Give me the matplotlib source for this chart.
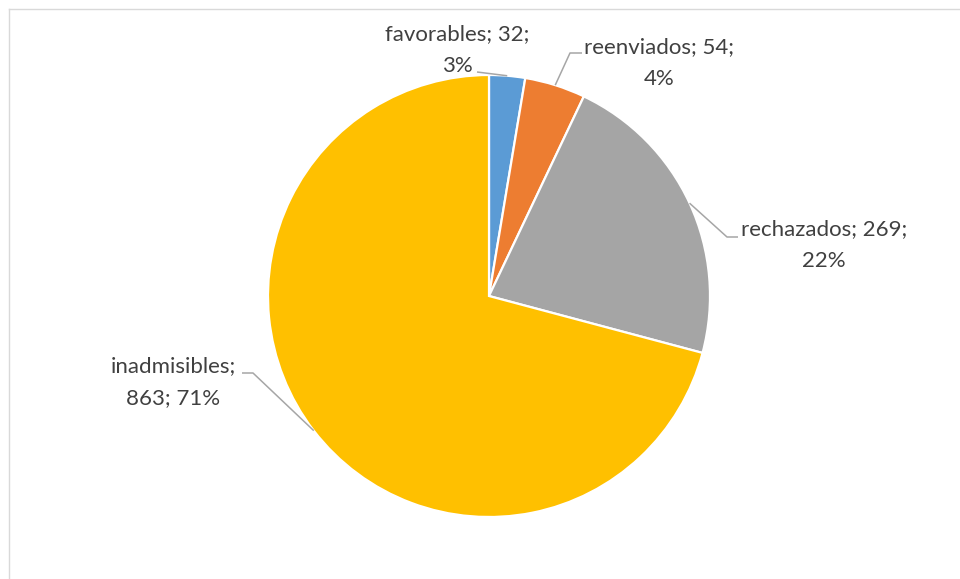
import numpy as np
import matplotlib.pyplot as plt
from matplotlib.lines import Line2D

categories = ['favorables', 'reenviados', 'rechazados', 'inadmisibles']
counts = [32, 54, 269, 863]
colors = ['#5B9BD5', '#ED7D31', '#A5A5A5', '#FFC000']

W, H = 960, 579
center = (489, H - 296)
radius = 221

# label layout in pixel coords (x, y from top): text centre, stub end, elbow
label_text = {
    'favorables': ('favorables; 32;\n3%', (457, 50)),
    'reenviados': ('reenviados; 54;\n4%', (659, 63)),
    'rechazados': ('rechazados; 269;\n22%', (824, 245)),
    'inadmisibles': ('inadmisibles;\n863; 71%', (173, 382)),
}
stubs = {
    'favorables': ((477, 72), None),
    'reenviados': ((582, 53), (570, 53)),
    'rechazados': ((738, 237), (727, 237)),
    'inadmisibles': ((242, 373), (253, 373)),
}

fig = plt.figure(figsize=(W / 100, H / 100), dpi=100)
ax = fig.add_axes([0, 0, 1, 1])

wedges, _ = ax.pie(counts, colors=colors, startangle=90, counterclock=False,
                   center=center, radius=radius,
                   wedgeprops=dict(edgecolor='white', linewidth=1.6))
# pie() resets the limits, so put them back to pixel units afterwards
ax.set_xlim(0, W)
ax.set_ylim(0, H)
ax.set_aspect('equal')
ax.axis('off')

total = sum(counts)
cum = np.cumsum([0] + counts)
for i, name in enumerate(categories):
    mid = 90 - (cum[i] + counts[i] / 2) / total * 360
    px = center[0] + radius * np.cos(np.radians(mid))
    py = center[1] + radius * np.sin(np.radians(mid))
    end, elbow = stubs[name]
    xs = [px]
    ys = [py]
    if elbow is not None:
        xs.append(elbow[0])
        ys.append(H - elbow[1])
    xs.append(end[0])
    ys.append(H - end[1])
    ax.plot(xs, ys, color='#A6A6A6', linewidth=1.1, solid_capstyle='butt')

    txt, (tx, ty) = label_text[name]
    ax.text(tx, H - ty, txt, ha='center', va='center', fontsize=16,
            family=['Lato', 'DejaVu Sans'], color='#404040', linespacing=1.75)

# chart area frame (left and top edges visible)
fx = 8.5 / W
fy = 1 - 8.5 / H
fig.add_artist(Line2D([fx, fx], [0, fy], color='#D9D9D9', linewidth=1.0, transform=fig.transFigure))
fig.add_artist(Line2D([fx, 1], [fy, fy], color='#D9D9D9', linewidth=1.0, transform=fig.transFigure))

plt.savefig('out.png', dpi=100)
